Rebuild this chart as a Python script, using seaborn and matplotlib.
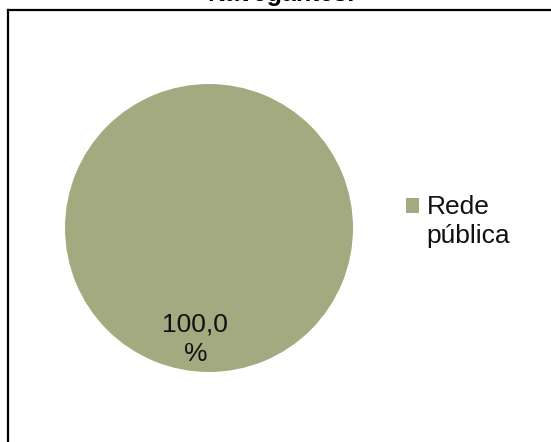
import matplotlib
matplotlib.use("Agg")
import matplotlib.pyplot as plt
import seaborn as sns
from matplotlib.lines import Line2D
from matplotlib.patches import Rectangle
from matplotlib.legend_handler import HandlerPatch

# Data
categories = ["Rede\npública"]
values = [100.0]
title_text = "Navegantes."
colors = ["#A4AA80"]

sns.set_theme(style="white")
plt.rcParams['font.family'] = ['Liberation Sans', 'DejaVu Sans']

W, H = 551, 442
fig = plt.figure(figsize=(W / 100, H / 100), dpi=100)
fig.patch.set_facecolor("white")

# pie axes: center (209, 228) px, radius 144 px
cx, cy, r = 209, 228, 144
ax = fig.add_axes([(cx - r) / W, (H - cy - r) / H, 2 * r / W, 2 * r / H])

def fmt(p):
    return f"{p:.1f}".replace(".", ",") + "\n%"

wedges, texts, autotexts = ax.pie(
    values, colors=colors, startangle=83, autopct=fmt, pctdistance=0.78,
    textprops=dict(fontsize=19, color="#111111"),
    wedgeprops=dict(linewidth=0),
)
for t in autotexts:
    t.set_linespacing(1.3)
ax.set_xlim(-1, 1)
ax.set_ylim(-1, 1)
ax.set_aspect("equal")
ax.axis("off")


class TopSquare(HandlerPatch):
    """Square legend key aligned with the first line of a two-line label."""
    def create_artists(self, legend, orig_handle, xdescent, ydescent,
                       width, height, fontsize, trans):
        shift = 0.62 * fontsize
        p = Rectangle((-xdescent, -ydescent + shift), width, height,
                      facecolor=orig_handle.get_facecolor(), edgecolor="none",
                      transform=trans)
        return [p]


leg = fig.legend(
    wedges, categories, loc="upper left",
    bbox_to_anchor=(406 / W, 1 - 195 / H), frameon=False,
    fontsize=19, handlelength=0.48, handleheight=0.48, handletextpad=0.3,
    borderaxespad=0, borderpad=0,
    handler_map={wedges[0]: TopSquare()},
)
for t in leg.get_texts():
    t.set_linespacing(1.28)
    t.set_color("#111111")

# border lines (chart frame, partially cropped)
fig.add_artist(Line2D([7.5 / W, 7.5 / W], [0, 1 - 9.5 / H], color="black", lw=1.6,
                      transform=fig.transFigure, solid_capstyle="projecting"))
fig.add_artist(Line2D([7.5 / W, 1], [1 - 9.5 / H, 1 - 9.5 / H], color="black", lw=1.6,
                      transform=fig.transFigure, solid_capstyle="projecting"))

fig.text(281 / W, 1 - 1.5 / H, title_text, ha="center", va="baseline",
         fontsize=18, fontweight="bold", color="black")

fig.savefig("out.png", dpi=100, facecolor="white")
